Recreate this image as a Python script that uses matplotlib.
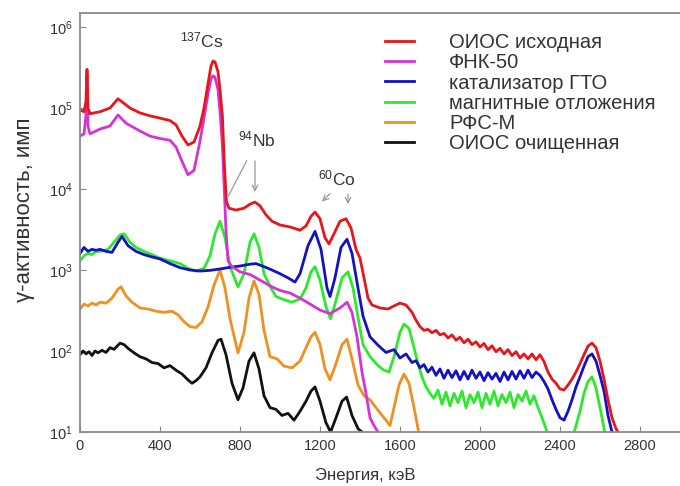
import matplotlib
matplotlib.use("Agg")
import matplotlib.pyplot as plt
from matplotlib.ticker import LogLocator, NullLocator

plt.rcParams['font.family'] = ['Liberation Sans', 'DejaVu Sans']
plt.rcParams['mathtext.fontset'] = 'custom'
plt.rcParams['mathtext.rm'] = 'Liberation Sans'
plt.rcParams['mathtext.it'] = 'Liberation Sans:italic'

# spectra: energy (keV) / counts
red_e = [0, 20, 30, 35, 40, 50, 100, 150, 190, 250, 300, 350, 400, 450, 480, 510, 540, 570, 600,
         620, 640, 655, 665, 675, 690, 700, 712, 722, 732, 745, 780, 820, 850, 875, 900, 930, 960,
         1000, 1050, 1100, 1130, 1155, 1175, 1200, 1225, 1245, 1270, 1300, 1330, 1355, 1380, 1400,
         1420, 1440, 1460, 1500, 1540, 1570, 1600, 1630, 1660, 1680, 1700, 1720, 1740, 1760, 1780,
         1800, 1820, 1840, 1860, 1880, 1900, 1920, 1940, 1960, 1980, 2000, 2020, 2040, 2060, 2080,
         2100, 2120, 2140, 2160, 2180, 2200, 2220, 2240, 2260, 2280, 2300, 2320, 2340, 2360, 2380,
         2400, 2420, 2440, 2460, 2480, 2500, 2520, 2540, 2560, 2580, 2600, 2620, 2640, 2660, 2680,
         2700]
red_y = [9.5e4, 9.0e4, 1.2e5, 3.0e5, 1.0e5, 8.5e4, 9.0e4, 1.0e5, 1.3e5, 1.0e5, 8.7e4, 8.0e4, 7.5e4,
         7.0e4, 6.2e4, 4.5e4, 3.5e4, 3.8e4, 6.0e4, 1.0e5, 2.0e5, 3.3e5, 3.8e5, 3.7e5, 2.8e5, 1.7e5,
         8.0e4, 2.0e4, 7.0e3, 5.8e3, 5.5e3, 5.8e3, 6.5e3, 6.9e3, 6.2e3, 4.8e3, 4.0e3, 3.6e3, 3.4e3,
         3.1e3, 3.5e3, 4.6e3, 5.2e3, 4.3e3, 2.5e3, 2.1e3, 2.8e3, 4.0e3, 4.3e3, 3.3e3, 1.8e3, 1.4e3,
         800, 450, 370, 340, 330, 360, 390, 370, 300, 240, 200, 180, 185, 168, 180, 158, 165, 145,
         158, 136, 148, 126, 140, 120, 130, 112, 124, 104, 116, 98, 108, 92, 104, 88, 98, 82, 92,
         80, 92, 78, 90, 74, 55, 45, 40, 34, 33, 38, 45, 55, 70, 90, 115, 125, 110, 75, 45, 25, 15,
         11, 9]

mag_e = [0, 20, 30, 35, 40, 50, 100, 150, 190, 230, 300, 350, 400, 450, 480, 510, 540, 570, 600,
         620, 640, 655, 665, 675, 690, 700, 712, 720, 730, 740, 760, 800, 850, 900, 960, 1000, 1050,
         1100, 1150, 1200, 1250, 1300, 1335, 1360, 1385, 1410, 1430, 1450, 1470, 1490, 1500]
mag_y = [4.5e4, 4.8e4, 8.0e4, 2.6e5, 6.0e4, 4.8e4, 5.5e4, 6.0e4, 8.2e4, 6.5e4, 5.2e4, 4.5e4, 4.2e4,
         4.0e4, 3.3e4, 2.2e4, 1.5e4, 1.7e4, 3.9e4, 7.5e4, 1.5e5, 2.3e5, 2.5e5, 2.4e5, 1.7e5, 9.0e4,
         3.5e4, 1.2e4, 3.0e3, 1.3e3, 1.1e3, 950, 880, 750, 620, 560, 520, 450, 380, 320, 290, 340,
         400, 300, 150, 55, 30, 15, 12, 10, 8]

blue_e = [0, 20, 40, 60, 80, 100, 130, 160, 190, 210, 240, 280, 320, 360, 400, 450, 500, 550, 600,
          650, 700, 750, 800, 850, 880, 920, 960, 1000, 1040, 1075, 1100, 1140, 1175, 1205, 1235,
          1250, 1275, 1305, 1335, 1360, 1390, 1415, 1450, 1490, 1530, 1570, 1600, 1630, 1660, 1680,
          1700, 1720, 1740, 1760, 1780, 1800, 1820, 1840, 1860, 1880, 1900, 1920, 1940, 1960, 1980,
          2000, 2020, 2040, 2060, 2080, 2100, 2120, 2140, 2160, 2180, 2200, 2220, 2240, 2260, 2280,
          2300, 2320, 2340, 2360, 2380, 2400, 2420, 2440, 2460, 2480, 2500, 2520, 2540, 2560, 2580,
          2600, 2620, 2640, 2660, 2670]
blue_y = [1.6e3, 1.9e3, 1.7e3, 1.8e3, 1.75e3, 1.8e3, 1.7e3, 1.65e3, 2.2e3, 2.6e3, 2.0e3, 1.7e3,
          1.55e3, 1.45e3, 1.37e3, 1.2e3, 1.07e3, 1.0e3, 970, 990, 1.03e3, 1.08e3, 1.12e3, 1.18e3,
          1.2e3, 1.1e3, 1.0e3, 900, 800, 710, 900, 2.0e3, 3.0e3, 1.8e3, 600, 470, 800, 1.9e3, 2.4e3,
          1.6e3, 600, 270, 150, 118, 96, 104, 82, 92, 72, 76, 62, 68, 55, 63, 50, 60, 46, 58, 47,
          57, 44, 56, 45, 58, 46, 55, 43, 54, 45, 53, 42, 55, 44, 56, 45, 57, 46, 58, 47, 55, 50,
          42, 34, 25, 19, 15, 14, 18, 25, 36, 48, 65, 85, 92, 75, 50, 32, 16, 10, 8]

green_e = [0, 20, 40, 60, 80, 100, 140, 170, 200, 220, 250, 280, 320, 360, 400, 450, 500, 540, 580,
           620, 650, 675, 700, 725, 750, 790, 820, 850, 870, 895, 920, 950, 980, 1020, 1060, 1100,
           1130, 1155, 1175, 1200, 1230, 1253, 1280, 1310, 1340, 1365, 1395, 1415, 1450, 1490, 1520,
           1545, 1570, 1600, 1620, 1645, 1670, 1690, 1710, 1730, 1750, 1770, 1790, 1810, 1830, 1850,
           1870, 1890, 1910, 1930, 1950, 1970, 1990, 2010, 2030, 2050, 2070, 2090, 2110, 2130, 2150,
           2170, 2190, 2210, 2230, 2250, 2270, 2290, 2310, 2330, 2345, 2400, 2460, 2480, 2500, 2520,
           2540, 2560, 2580, 2600, 2615, 2630]
green_y = [1.3e3, 1.5e3, 1.6e3, 1.55e3, 1.7e3, 1.7e3, 1.8e3, 2.2e3, 2.7e3, 2.8e3, 2.2e3, 1.9e3,
           1.7e3, 1.55e3, 1.4e3, 1.3e3, 1.2e3, 1.05e3, 970, 1.05e3, 1.5e3, 2.8e3, 4.0e3, 2.5e3,
           1.1e3, 620, 900, 2.2e3, 2.8e3, 1.9e3, 900, 630, 470, 430, 400, 440, 600, 950, 1.1e3, 750,
           350, 250, 420, 800, 950, 600, 220, 120, 85, 66, 58, 55, 85, 170, 215, 190, 110, 70, 48,
           36, 30, 26, 33, 22, 31, 21, 30, 23, 32, 20, 29, 23, 31, 20, 30, 22, 32, 21, 29, 23, 31, 20,
           29, 24, 32, 22, 28, 20, 15, 11, 8, 6, 8, 12, 18, 30, 42, 48, 35, 20, 13, 8]

orange_e = [0, 20, 40, 60, 80, 100, 130, 160, 190, 205, 230, 260, 300, 340, 380, 420, 460, 490,
            520, 550, 580, 610, 640, 670, 700, 725, 750, 790, 820, 845, 870, 895, 920, 950, 985,
            1020, 1060, 1100, 1130, 1155, 1175, 1200, 1225, 1250, 1280, 1310, 1335, 1360, 1390,
            1420, 1450, 1480, 1510, 1530, 1550, 1570, 1595, 1620, 1645, 1670, 1690, 1700]
orange_y = [330, 380, 360, 390, 370, 400, 390, 450, 580, 620, 480, 400, 340, 330, 310, 300, 310,
            280, 230, 200, 195, 230, 350, 650, 1.0e3, 600, 250, 95, 170, 450, 730, 500, 180, 85,
            80, 65, 62, 75, 110, 150, 170, 120, 60, 44, 70, 120, 140, 80, 38, 28, 25, 20, 16, 14,
            12, 20, 38, 52, 40, 20, 11, 8]

black_e = [0, 15, 30, 45, 60, 75, 90, 110, 130, 150, 170, 200, 220, 240, 270, 300, 330, 360, 390,
           420, 450, 480, 510, 540, 560, 580, 600, 630, 660, 690, 705, 730, 760, 790, 815, 845, 870,
           895, 920, 950, 980, 1010, 1040, 1070, 1100, 1130, 1155, 1175, 1200, 1230, 1253, 1280,
           1310, 1333, 1360, 1390, 1410, 1430]
black_y = [90, 100, 92, 98, 88, 100, 95, 102, 96, 110, 105, 125, 120, 108, 95, 85, 80, 72, 70, 62,
           66, 58, 52, 44, 40, 43, 48, 62, 95, 135, 140, 90, 40, 25, 35, 75, 95, 60, 28, 20, 19, 16,
           17, 14, 18, 24, 32, 36, 24, 13, 10, 15, 24, 27, 16, 11, 10, 8]

series_labels = ["ОИОС исходная", "ФНК-50", "катализатор ГТО",
                 "магнитные отложения", "РФС-М", "ОИОС очищенная"]
series_colors = ["#e8161a", "#d633d6", "#1212c4", "#2ee82e", "#f0901e", "#111111"]

x_ticks = [0, 400, 800, 1200, 1600, 2000, 2400, 2800]


def draw_spectra(ax):
    data = [(red_e, red_y), (mag_e, mag_y), (blue_e, blue_y),
            (green_e, green_y), (orange_e, orange_y), (black_e, black_y)]
    lines = []
    # draw bottom series first so red ends up on top
    for i in reversed(range(len(data))):
        e, y = data[i]
        ln, = ax.plot(e, y, color=series_colors[i], lw=2.0, label=series_labels[i])
        lines.append(ln)
    return lines[::-1]


def draw_labels(ax):
    gray = "#9a9a9a"
    ax.text(610, 5.6e5, "$^{137}$Cs", fontsize=12.5, ha="center", va="baseline", color="#333333")
    ax.text(885, 3.4e4, "$^{94}$Nb", fontsize=12.5, ha="center", va="baseline", color="#333333")
    ax.text(1285, 1.1e4, "$^{60}$Co", fontsize=12.5, ha="center", va="baseline", color="#333333")

    ax.annotate("", xy=(735, 7.6e3), xytext=(840, 2.4e4),
                arrowprops=dict(arrowstyle="-", color=gray, lw=0.9))
    ax.annotate("", xy=(875, 8.5e3), xytext=(875, 2.4e4),
                arrowprops=dict(arrowstyle="->", color=gray, lw=0.9))
    ax.annotate("", xy=(1200, 6.6e3), xytext=(1260, 9.3e3),
                arrowprops=dict(arrowstyle="->", color=gray, lw=0.9))
    ax.annotate("", xy=(1340, 6.0e3), xytext=(1340, 9.3e3),
                arrowprops=dict(arrowstyle="->", color=gray, lw=0.9))


if __name__ == "__main__":
    fig = plt.figure(figsize=(6.8, 4.86), dpi=100)
    ax = fig.add_axes([80 / 680, 1 - 432 / 486, 600 / 680, 419 / 486])

    handles = draw_spectra(ax)
    draw_labels(ax)

    ax.set_yscale("log")
    ax.set_xlim(0, 3000)
    ax.set_ylim(10, 1.49e6)
    ax.set_xticks(x_ticks)
    ax.yaxis.set_major_locator(LogLocator(base=10, numticks=10))
    ax.yaxis.set_minor_locator(NullLocator())

    for side in ["left", "top", "bottom"]:
        ax.spines[side].set_color("#8a8a8a")
        ax.spines[side].set_linewidth(1.3)
    ax.spines["right"].set_visible(False)
    ax.tick_params(direction="in", length=4, color="#8a8a8a", labelsize=10.5,
                   labelcolor="#333333", pad=5)

    ax.set_ylabel("γ-активность, имп", fontsize=16, color="#333333")
    ax.yaxis.set_label_coords(-0.075, 0.53)
    ax.set_xlabel("Энергия, кэВ", fontsize=12, color="#333333")
    ax.xaxis.set_label_coords(0.475, -0.085)

    ax.legend(handles=handles, loc="upper left", bbox_to_anchor=(0.508, 0.952),
              frameon=False, fontsize=14.5, handlelength=1.45, handletextpad=1.75,
              labelspacing=0.06, borderpad=0, borderaxespad=0, labelcolor="#333333")

    fig.savefig("out.png", dpi=100)
